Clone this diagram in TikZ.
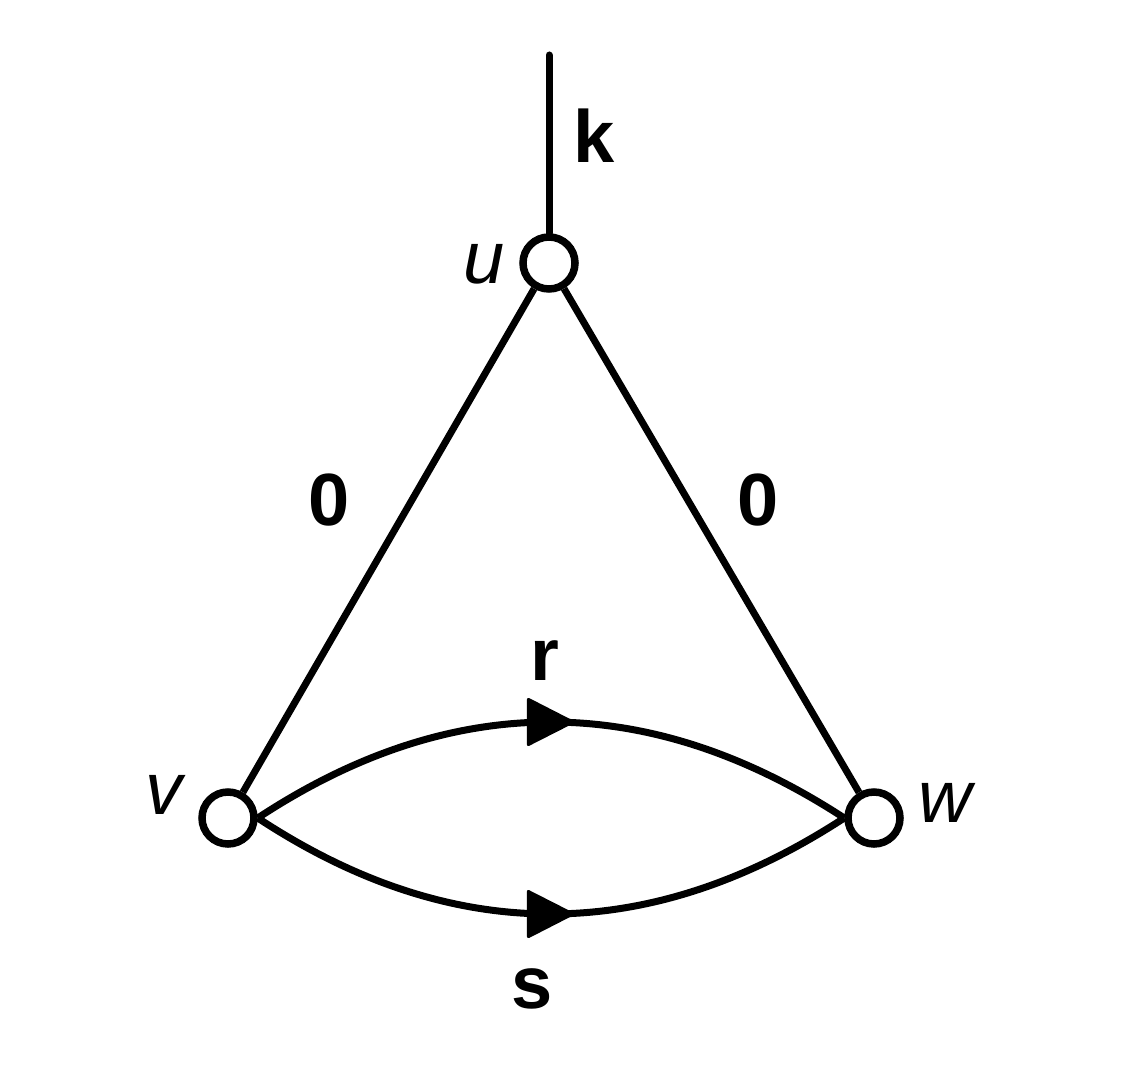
\documentclass[tikz,border=0pt]{standalone}
\usepackage{fontspec}
\setmainfont{Liberation Sans}
\usetikzlibrary{decorations.markings}
\tikzset{
  vert/.style={circle,draw,fill=white,line width=7.5pt,minimum size=52pt,inner sep=0pt},
  edge/.style={line width=7pt},
  lbl/.style={anchor=base,inner sep=0pt,font=\fontsize{74}{80}\selectfont\bfseries},
  vlbl/.style={anchor=base,inner sep=0pt,font=\fontsize{74}{80}\selectfont\itshape},
  midarrow/.style={postaction={decorate},decoration={markings,
    mark=at position 0.5 with {\fill[rounded corners=2.5pt] (-24pt,-25pt) -- (25pt,0pt) -- (-24pt,25pt) -- cycle;}}}
}
\begin{document}
\begin{tikzpicture}[x=1pt,y=-1pt]
\useasboundingbox (0,0) rectangle (1131,1075);
\node[vert] (u) at (549,263) {};
\node[vert] (v) at (228,818) {};
\node[vert] (w) at (874,818) {};
\coordinate (top) at (549,55);
\draw[edge,line cap=round] (top) -- (u);
\draw[edge] (u) -- (v);
\draw[edge] (u) -- (w);
\draw[edge,midarrow] (v.east) .. controls (452,690) and (648,690) .. (w.west);
\draw[edge,midarrow] (v.east) .. controls (452,946) and (648,946) .. (w.west);
\node[lbl] (lk) at (594,163) {k};
\node[lbl] (l0a) at (329,525) {0};
\node[lbl] (l0b) at (758,525) {0};
\node[lbl] (lr) at (545,680) {r};
\node[lbl] (ls) at (532,1008) {s};
\node[vlbl] (lu) at (484,283) {u};
\node[vlbl] (lv) at (164,814) {v};
\node[vlbl] (lw) at (945,822) {w};
\end{tikzpicture}
\end{document}
